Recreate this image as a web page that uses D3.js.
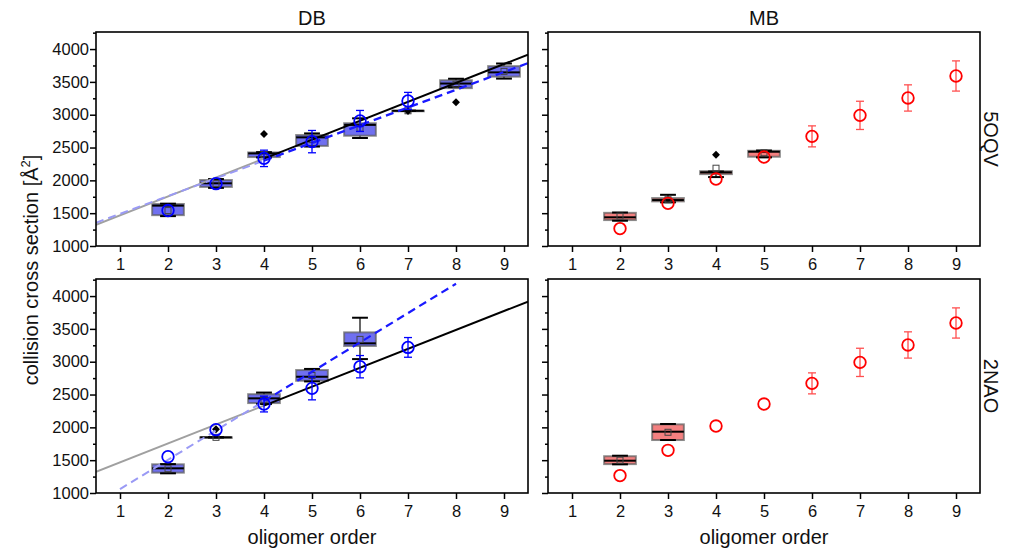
<!DOCTYPE html>
<html>
<head>
<meta charset="utf-8">
<script src="https://cdn.jsdelivr.net/npm/d3@7"></script>
<style>
body { margin: 0; background: #fff; }
svg { display: block; font-family: Arial, "Liberation Sans", sans-serif; }
</style>
</head>
<body>
<div id="container"></div>
<script>
// ---- data ----
const orders = [1, 2, 3, 4, 5, 6, 7, 8, 9];
const yTicks = [1000, 1500, 2000, 2500, 3000, 3500, 4000];
const columns = ['DB', 'MB'];
const rows = ['5OQV', '2NAO'];

// DB / 5OQV box plots
const db5oqvX = [2, 3, 4, 5, 6, 7, 8, 9];
const db5oqvLo = [1455, 1885, 2350, 2515, 2645, 3060, 3420, 3550];
const db5oqvQ1 = [1470, 1900, 2355, 2525, 2680, 3060, 3405, 3580];
const db5oqvMed = [1615, 1955, 2410, 2655, 2845, 3060, 3475, 3645];
const db5oqvQ3 = [1640, 2005, 2425, 2690, 2870, 3060, 3525, 3740];
const db5oqvHi = [1645, 2020, 2430, 2715, 2945, 3060, 3548, 3780];
const db5oqvMean = [1540, 1950, 2395, 2620, 2795, 3060, 3465, 3660];
const db5oqvOutX = [4, 7, 8];
const db5oqvOutY = [2705, 3056, 3190];
// DB / 5OQV measured points
const db5oqvPtX = [2, 3, 4, 5, 6, 7];
const db5oqvPtY = [1540, 1950, 2335, 2590, 2905, 3210];
const db5oqvPtErr = [20, 25, 125, 170, 160, 130];

// MB / 5OQV box plots
const mb5oqvX = [2, 3, 4, 5];
const mb5oqvLo = [1385, 1665, 2050, 2350];
const mb5oqvQ1 = [1395, 1680, 2095, 2360];
const mb5oqvMed = [1437, 1700, 2122, 2436];
const mb5oqvQ3 = [1505, 1730, 2140, 2450];
const mb5oqvHi = [1510, 1780, 2135, 2455];
const mb5oqvMean = [1455, 1705, 2185, 2420];
const mb5oqvOutX = [4];
const mb5oqvOutY = [2390];

// MB measured points (same in both rows)
const mbPtX = [2, 3, 4, 5, 6, 7, 8, 9];
const mbPtY = [1265, 1650, 2020, 2355, 2670, 2990, 3255, 3590];
const mbPtErr = [15, 75, 35, 40, 160, 215, 200, 230];

// DB / 2NAO box plots
const db2naoX = [2, 3, 4, 5, 6];
const db2naoLo = [1300, 1848, 2355, 2700, 3040];
const db2naoQ1 = [1310, 1848, 2370, 2710, 3240];
const db2naoMed = [1376, 1848, 2442, 2771, 3280];
const db2naoQ3 = [1437, 1848, 2505, 2873, 3447];
const db2naoHi = [1440, 1848, 2530, 2890, 3670];
const db2naoMean = [1370, 1848, 2420, 2790, 3340];
const db2naoOutX = [3];
const db2naoOutY = [1970];
const db2naoPtX = [2, 3, 4, 5, 6, 7];
const db2naoPtY = [1553, 1965, 2355, 2594, 2924, 3218];
const db2naoPtErr = [20, 25, 120, 175, 170, 150];

// MB / 2NAO box plots
const mb2naoX = [2, 3];
const mb2naoLo = [1437, 1807];
const mb2naoQ1 = [1440, 1807];
const mb2naoMed = [1492, 1934];
const mb2naoQ3 = [1560, 2046];
const mb2naoHi = [1568, 2051];
const mb2naoMean = [1500, 1925];

// linear models (intercept, slope)
const modelLine = [1180, 288];
const fit5oqv = [1220, 270];
const fit2nao = [612, 447];

// ---- layout ----
const width = 1013;
const height = 548;
const colX = [[96, 528], [548, 980]];
const rowY = [[32, 246], [279, 493]];

const BLUE_BOX = 'rgb(112,112,240)';
const RED_BOX = 'rgb(244,128,128)';
const PT_R = 5.8;

const svg = d3.select('#container')
    .append('svg')
    .attr('width', width)
    .attr('height', height)
    .attr('viewBox', [0, 0, width, height]);

const boxSet = (xs, lo, q1, med, q3, hi, mean) =>
    xs.map((x, i) => ({ x, lo: lo[i], q1: q1[i], med: med[i], q3: q3[i], hi: hi[i], mean: mean[i] }));
const ptSet = (xs, ys, errs) => xs.map((x, i) => ({ x, y: ys[i], e: errs[i] }));
const outSet = (xs, ys) => xs.map((x, i) => ({ x, y: ys[i] }));

const panels = [
    {
        c: 0, r: 0, fill: BLUE_BOX, ptColor: '#0000ff', errColor: '#0000ff',
        boxes: boxSet(db5oqvX, db5oqvLo, db5oqvQ1, db5oqvMed, db5oqvQ3, db5oqvHi, db5oqvMean),
        outliers: outSet(db5oqvOutX, db5oqvOutY),
        points: ptSet(db5oqvPtX, db5oqvPtY, db5oqvPtErr),
        fit: fit5oqv, fitLight: [0.5, 4], fitDark: [4, 9.5], model: true
    },
    {
        c: 1, r: 0, fill: RED_BOX, ptColor: '#ff0000', errColor: '#ff5050',
        boxes: boxSet(mb5oqvX, mb5oqvLo, mb5oqvQ1, mb5oqvMed, mb5oqvQ3, mb5oqvHi, mb5oqvMean),
        outliers: outSet(mb5oqvOutX, mb5oqvOutY),
        points: ptSet(mbPtX, mbPtY, mbPtErr)
    },
    {
        c: 0, r: 1, fill: BLUE_BOX, ptColor: '#0000ff', errColor: '#0000ff',
        boxes: boxSet(db2naoX, db2naoLo, db2naoQ1, db2naoMed, db2naoQ3, db2naoHi, db2naoMean),
        outliers: outSet(db2naoOutX, db2naoOutY),
        points: ptSet(db2naoPtX, db2naoPtY, db2naoPtErr),
        fit: fit2nao, fitLight: [1, 4], fitDark: [4, 8], model: true
    },
    {
        c: 1, r: 1, fill: RED_BOX, ptColor: '#ff0000', errColor: '#ff5050',
        boxes: boxSet(mb2naoX, mb2naoLo, mb2naoQ1, mb2naoMed, mb2naoQ3, mb2naoHi, mb2naoMean),
        outliers: [],
        points: ptSet(mbPtX, mbPtY, mbPtErr)
    }
];

panels.forEach((p, k) => {
    const x = d3.scaleLinear().domain([0.5, 9.5]).range(colX[p.c]);
    const y = d3.scaleLinear().domain([1000, 4260]).range([rowY[p.r][1], rowY[p.r][0]]);
    const g = svg.append('g');

    const clipId = 'clip' + k;
    svg.append('clipPath').attr('id', clipId)
        .append('rect')
        .attr('x', x(0.5)).attr('y', y(4260))
        .attr('width', x(9.5) - x(0.5)).attr('height', y(1000) - y(4260));

    // axes
    const yAxis = g.append('g')
        .attr('transform', `translate(${x(0.5)},0)`)
        .call(d3.axisLeft(y).tickValues(d3.range(1000, 4251, 250)).tickSize(6)
            .tickFormat(d => (p.c === 0 && d % 500 === 0) ? d : ''));
    yAxis.selectAll('.tick line')
        .attr('x2', d => d % 500 === 0 ? -6 : -3)
        .attr('stroke-width', 1.5);
    yAxis.selectAll('.tick text').attr('x', -7);

    const xAxis = g.append('g')
        .attr('transform', `translate(0,${y(1000)})`)
        .call(d3.axisBottom(x).tickValues(orders).tickSize(6).tickPadding(6).tickFormat(d3.format('d')));
    xAxis.selectAll('.tick line').attr('stroke-width', 1.5);

    g.selectAll('.domain').remove();
    g.selectAll('.tick text')
        .attr('font-size', 16.5)
        .attr('font-family', 'Arial, "Liberation Sans", sans-serif')
        .attr('fill', '#111');

    const plot = g.append('g').attr('clip-path', `url(#${clipId})`);
    const bw = x(0.66) - x(0);

    // boxes
    const box = plot.selectAll('g.box').data(p.boxes).join('g').attr('class', 'box');
    box.append('line')
        .attr('x1', d => x(d.x)).attr('x2', d => x(d.x))
        .attr('y1', d => y(d.lo)).attr('y2', d => y(d.hi))
        .attr('stroke', '#000').attr('stroke-width', 1.2);
    box.append('rect')
        .attr('x', d => x(d.x) - bw / 2)
        .attr('y', d => y(d.q3))
        .attr('width', bw)
        .attr('height', d => Math.max(0.5, y(d.q1) - y(d.q3)))
        .attr('fill', p.fill)
        .attr('stroke', 'rgba(90,90,90,0.7)')
        .attr('stroke-width', 2);
    box.append('line')
        .attr('x1', d => x(d.x) - bw / 2).attr('x2', d => x(d.x) + bw / 2)
        .attr('y1', d => y(d.med)).attr('y2', d => y(d.med))
        .attr('stroke', '#000').attr('stroke-width', 2);
    ['lo', 'hi'].forEach(key => {
        box.append('line')
            .attr('x1', d => x(d.x) - bw / 4).attr('x2', d => x(d.x) + bw / 4)
            .attr('y1', d => y(d[key])).attr('y2', d => y(d[key]))
            .attr('stroke', '#000').attr('stroke-width', 2);
    });
    box.append('rect')
        .attr('x', d => x(d.x) - 3)
        .attr('y', d => y(d.mean) - 3)
        .attr('width', 6).attr('height', 6)
        .attr('fill', 'none')
        .attr('stroke', '#444').attr('stroke-width', 1);

    plot.selectAll('path.out').data(p.outliers).join('path')
        .attr('class', 'out')
        .attr('d', d3.symbol(d3.symbolDiamond2, 40))
        .attr('transform', d => `translate(${x(d.x)},${y(d.y)})`)
        .attr('fill', '#000');

    // fitted lines
    if (p.model) {
        const line = d3.line().x(d => x(d)).y(d => y(modelLine[0] + modelLine[1] * d));
        const fitLine = d3.line().x(d => x(d)).y(d => y(p.fit[0] + p.fit[1] * d));
        plot.append('path').attr('d', line([0.5, 4]))
            .attr('fill', 'none').attr('stroke', '#a0a0a0').attr('stroke-width', 2);
        plot.append('path').attr('d', fitLine(p.fitLight))
            .attr('fill', 'none').attr('stroke', '#9a9af5').attr('stroke-width', 2)
            .attr('stroke-dasharray', '8,5');
        plot.append('path').attr('d', line([4, 9.5]))
            .attr('fill', 'none').attr('stroke', '#000').attr('stroke-width', 2);
        plot.append('path').attr('d', fitLine(p.fitDark))
            .attr('fill', 'none').attr('stroke', '#1a1aff').attr('stroke-width', 2.2)
            .attr('stroke-dasharray', '8,5');
    }

    // measured points with error bars (hidden when inside the marker)
    const pt = plot.selectAll('g.pt').data(p.points).join('g').attr('class', 'pt');
    const bars = pt.filter(d => y(d.y) - y(d.y + d.e) > PT_R);
    bars.append('line')
        .attr('x1', d => x(d.x)).attr('x2', d => x(d.x))
        .attr('y1', d => y(d.y - d.e)).attr('y2', d => y(d.y + d.e))
        .attr('stroke', p.errColor).attr('stroke-width', 1.3);
    [-1, 1].forEach(s => {
        bars.append('line')
            .attr('x1', d => x(d.x) - 4).attr('x2', d => x(d.x) + 4)
            .attr('y1', d => y(d.y + s * d.e)).attr('y2', d => y(d.y + s * d.e))
            .attr('stroke', p.errColor).attr('stroke-width', 1.3);
    });
    pt.append('circle')
        .attr('cx', d => x(d.x)).attr('cy', d => y(d.y))
        .attr('r', PT_R)
        .attr('fill', 'none')
        .attr('stroke', p.ptColor).attr('stroke-width', 1.8);

    // frame
    g.append('rect')
        .attr('x', x(0.5)).attr('y', y(4260))
        .attr('width', x(9.5) - x(0.5)).attr('height', y(1000) - y(4260))
        .attr('fill', 'none').attr('stroke', '#000').attr('stroke-width', 1.6);
});

// titles and labels
columns.forEach((t, c) => {
    svg.append('text')
        .attr('x', (colX[c][0] + colX[c][1]) / 2).attr('y', 25)
        .attr('text-anchor', 'middle').attr('font-size', 20).attr('fill', '#111')
        .text(t);
    svg.append('text')
        .attr('x', (colX[c][0] + colX[c][1]) / 2).attr('y', 544)
        .attr('text-anchor', 'middle').attr('font-size', 20).attr('fill', '#111')
        .text('oligomer order');
});
rows.forEach((t, r) => {
    const cy = (rowY[r][0] + rowY[r][1]) / 2;
    svg.append('text')
        .attr('transform', `translate(991,${cy}) rotate(90)`)
        .attr('text-anchor', 'middle').attr('dy', '0.35em')
        .attr('font-size', 20).attr('fill', '#111')
        .text(t);
});

const ylab = svg.append('text')
    .attr('transform', 'translate(38,270) rotate(-90)')
    .attr('text-anchor', 'middle')
    .attr('font-size', 20).attr('fill', '#111');
ylab.append('tspan').text('collision cross section [Å');
ylab.append('tspan').attr('dy', -8).attr('font-size', 13).text('2');
ylab.append('tspan').attr('dy', 8).text(']');
</script>
</body>
</html>
